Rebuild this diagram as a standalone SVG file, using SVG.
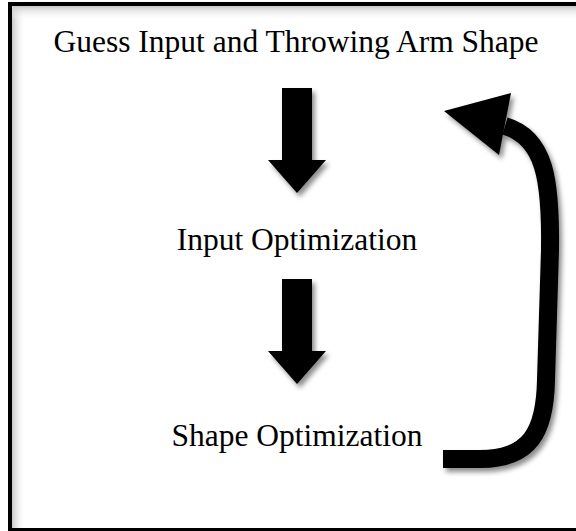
<svg xmlns="http://www.w3.org/2000/svg" xmlns:xlink="http://www.w3.org/1999/xlink" width="576" height="531" viewBox="0 0 576 531">
  <style>
    .lbl { font-family: "Liberation Serif", "Times New Roman", serif; font-size: 31.5px; fill: #000; text-anchor: middle; }
    .blk { fill: #000; }
  </style>
  <defs>
    <filter id="shadow" x="-20%" y="-20%" width="150%" height="150%">
      <feDropShadow dx="3" dy="4" stdDeviation="2.5" flood-color="#000" flood-opacity="0.45"/>
    </filter>
    <linearGradient id="gl" x1="0" y1="0" x2="1" y2="0">
      <stop offset="0" stop-color="#c8c8c8"/>
      <stop offset="1" stop-color="#fff" stop-opacity="0"/>
    </linearGradient>
    <linearGradient id="gt" x1="0" y1="0" x2="0" y2="1">
      <stop offset="0" stop-color="#c8c8c8"/>
      <stop offset="1" stop-color="#fff" stop-opacity="0"/>
    </linearGradient>
    <path id="down" d="M -15 0 H 15 V 72 H 29 L 0 105 L -29 72 H -15 Z"/>
  </defs>

  <rect width="576" height="531" fill="#fff"/>
  <g id="frame">
    <rect x="12" y="6" width="14" height="524" fill="url(#gl)"/>
    <rect x="12" y="6" width="566" height="14" fill="url(#gt)"/>
    <rect x="10" y="4" width="580" height="526" fill="none" stroke="#000" stroke-width="4"/>
  </g>

  <g id="node-guess">
    <text class="lbl" x="296" y="52">Guess Input and Throwing Arm Shape</text>
  </g>
  <g id="node-input">
    <text class="lbl" x="297" y="250">Input Optimization</text>
  </g>
  <g id="node-shape">
    <text class="lbl" x="297" y="446">Shape Optimization</text>
  </g>

  <g id="connectors" filter="url(#shadow)">
    <use xlink:href="#down" href="#down" class="blk" x="297" y="88"/>
    <use xlink:href="#down" href="#down" class="blk" x="297" y="279"/>
    <path d="M 443 459 L 480 459 C 530 459, 545 432, 546 380 L 550 250 C 551 180, 545 138, 505 126" fill="none" stroke="#000" stroke-width="18"/>
    <polygon class="blk" points="444,111 511,93 499,155"/>
  </g>
</svg>
